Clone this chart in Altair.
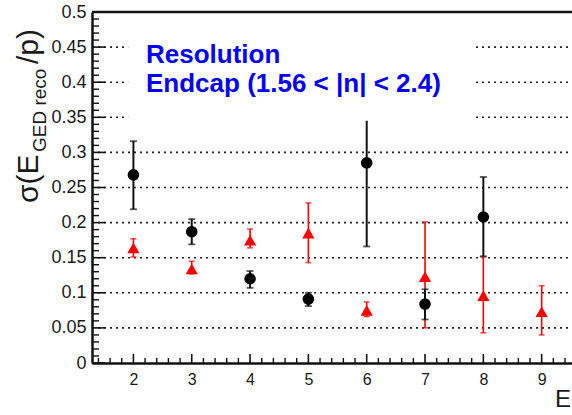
import altair as alt
import pandas as pd

# ---- data ----
black_x = [2, 3, 4, 5, 6, 7, 8]
black_y = [0.268, 0.187, 0.120, 0.091, 0.285, 0.084, 0.208]
black_lo = [0.219, 0.169, 0.107, 0.081, 0.166, 0.062, 0.152]
black_hi = [0.316, 0.205, 0.131, 0.100, 0.400, 0.105, 0.265]

red_x = [2, 3, 4, 5, 6, 7, 8, 9]
red_y = [0.164, 0.134, 0.175, 0.185, 0.075, 0.123, 0.096, 0.073]
red_lo = [0.151, 0.127, 0.164, 0.143, 0.066, 0.050, 0.043, 0.040]
red_hi = [0.177, 0.145, 0.191, 0.228, 0.087, 0.201, 0.151, 0.110]

y_major = [0, 0.05, 0.1, 0.15, 0.2, 0.25, 0.3, 0.35, 0.4, 0.45, 0.5]
y_grid = [0.05, 0.1, 0.15, 0.2, 0.25, 0.3, 0.35, 0.4, 0.45]
y_minor = [round(i * 0.01, 2) for i in range(1, 50) if i % 5 != 0]
x_major = [2, 3, 4, 5, 6, 7, 8, 9]
x_minor = [1.4, 1.6, 1.8, 2.2, 2.4, 2.6, 2.8, 3.2, 3.4, 3.6, 3.8, 4.2, 4.4, 4.6, 4.8,
           5.2, 5.4, 5.6, 5.8, 6.2, 6.4, 6.6, 6.8, 7.2, 7.4, 7.6, 7.8, 8.2, 8.4, 8.6, 8.8,
           9.2, 9.4]

box_x = [1.91, 7.84]
box_y = [0.345, 0.49]
legend_lines = ["Resolution", "Endcap (1.56 < |n| < 2.4)"]

W, H = 480, 351
FONT = "Liberation Sans"

xs = alt.Scale(domain=[1.29, 9.52], nice=False, zero=False)
ys = alt.Scale(domain=[0, 0.5], nice=False, zero=False)
xaxis = alt.Axis(values=x_major, format="d", labelFontSize=16, labelFont=FONT, labelColor="#1a1a1a",
                 ticks=False, grid=False, domainWidth=2.5, domainColor="#111", labelPadding=8,
                 labelFlush=False, title=None)
yaxis = alt.Axis(values=y_major, format="~g", labelFontSize=18, labelFont=FONT, labelColor="#1a1a1a",
                 ticks=False, grid=False, domainWidth=2.5, domainColor="#111", labelPadding=6,
                 title=None)

def X(f):
    return alt.X(f, type="quantitative", scale=xs, axis=xaxis)

def Y(f):
    return alt.Y(f, type="quantitative", scale=ys, axis=yaxis)

black = pd.DataFrame({"x": black_x, "y": black_y, "lo": black_lo, "hi": black_hi})
red = pd.DataFrame({"x": red_x, "y": red_y, "lo": red_lo, "hi": red_hi})

base_axes = alt.Chart(black).mark_point(opacity=0).encode(x=X("x"), y=Y("y"))

grid = alt.Chart(pd.DataFrame({"v": y_grid})).mark_rule(
    color="#222", strokeDash=[2, 4], strokeWidth=1.6).encode(
    y=Y("v"), x=alt.value(0), x2=alt.value(W))

ymaj = alt.Chart(pd.DataFrame({"v": y_major})).mark_rule(color="#111", strokeWidth=1.6).encode(
    y=Y("v"), x=alt.value(0), x2=alt.value(13))
ymin = alt.Chart(pd.DataFrame({"v": y_minor})).mark_rule(color="#111", strokeWidth=1.4).encode(
    y=Y("v"), x=alt.value(0), x2=alt.value(7))
xmaj = alt.Chart(pd.DataFrame({"v": x_major})).mark_rule(color="#111", strokeWidth=1.6).encode(
    x=X("v"), y=alt.value(H), y2=alt.value(H - 9))
xmin = alt.Chart(pd.DataFrame({"v": x_minor})).mark_rule(color="#111", strokeWidth=1.4).encode(
    x=X("v"), y=alt.value(H), y2=alt.value(H - 5))
top = alt.Chart(pd.DataFrame({"v": [0]})).mark_rule(color="#111", strokeWidth=2.5).encode(
    y=alt.value(0), x=alt.value(0), x2=alt.value(W))

red_bar = alt.Chart(red).mark_rule(color="#f00", strokeWidth=1.6).encode(x=X("x"), y=Y("lo"), y2=alt.Y2("hi"))
red_cap_lo = alt.Chart(red).mark_tick(color="#f00", orient="horizontal", size=6, thickness=1.5).encode(x=X("x"), y=Y("lo"))
red_cap_hi = alt.Chart(red).mark_tick(color="#f00", orient="horizontal", size=6, thickness=1.5).encode(x=X("x"), y=Y("hi"))
red_pts = alt.Chart(red).mark_point(shape="triangle-up", filled=True, color="#f00", size=150, opacity=1).encode(
    x=X("x"), y=Y("y"))

blk_bar = alt.Chart(black).mark_rule(color="#111", strokeWidth=2).encode(x=X("x"), y=Y("lo"), y2=alt.Y2("hi"))
blk_cap_lo = alt.Chart(black).mark_tick(color="#111", orient="horizontal", size=7, thickness=1.8).encode(x=X("x"), y=Y("lo"))
blk_cap_hi = alt.Chart(black).mark_tick(color="#111", orient="horizontal", size=7, thickness=1.8).encode(x=X("x"), y=Y("hi"))
blk_pts = alt.Chart(black).mark_point(shape="circle", filled=True, color="#000", size=135, opacity=1).encode(
    x=X("x"), y=Y("y"))

box = alt.Chart(pd.DataFrame({"x": [box_x[0]], "x2": [box_x[1]], "y": [box_y[0]], "y2": [box_y[1]]})).mark_rect(
    color="white").encode(x=X("x"), x2="x2", y=Y("y"), y2="y2")

leg1 = alt.Chart(pd.DataFrame({"t": [legend_lines[0]]})).mark_text(
    font=FONT, fontSize=26, fontWeight="bold", color="#0000ff", align="left", baseline="alphabetic").encode(
    text="t:N", x=alt.value(146 - 92), y=alt.value(63 - 12))
leg2 = alt.Chart(pd.DataFrame({"t": [legend_lines[1]]})).mark_text(
    font=FONT, fontSize=26, fontWeight="bold", color="#0000ff", align="left", baseline="alphabetic").encode(
    text="t:N", x=alt.value(146 - 92), y=alt.value(92 - 12))

yt1 = alt.Chart(pd.DataFrame({"t": ["σ(E"]})).mark_text(
    font=FONT, fontSize=30, color="#1a1a1a", angle=270, align="left", baseline="alphabetic").encode(
    text="t:N", x=alt.value(38 - 92), y=alt.value(203 - 12))
yt2 = alt.Chart(pd.DataFrame({"t": ["GED reco"]})).mark_text(
    font=FONT, fontSize=19, color="#1a1a1a", angle=270, align="left", baseline="alphabetic").encode(
    text="t:N", x=alt.value(46 - 92), y=alt.value(152 - 12))
yt3 = alt.Chart(pd.DataFrame({"t": ["/p)"]})).mark_text(
    font=FONT, fontSize=30, color="#1a1a1a", angle=270, align="left", baseline="alphabetic").encode(
    text="t:N", x=alt.value(38 - 92), y=alt.value(64 - 12))
xt = alt.Chart(pd.DataFrame({"t": ["E"]})).mark_text(
    font=FONT, fontSize=24, color="#1a1a1a", align="left", baseline="alphabetic").encode(
    text="t:N", x=alt.value(555 - 92), y=alt.value(407 - 12))

chart = alt.layer(
    base_axes, grid, ymaj, ymin, xmaj, xmin, top,
    red_bar, red_cap_lo, red_cap_hi, blk_bar, blk_cap_lo, blk_cap_hi,
    red_pts, blk_pts, box, leg1, leg2, yt1, yt2, yt3, xt
).properties(
    width=W, height=H,
    autosize=alt.AutoSizeParams(type="none"),
    padding={"left": 92, "top": 12, "right": 0, "bottom": 52},
    background="white",
).configure_view(stroke=None)

chart.save("out.html", embed_options={"renderer": "svg", "actions": False})
